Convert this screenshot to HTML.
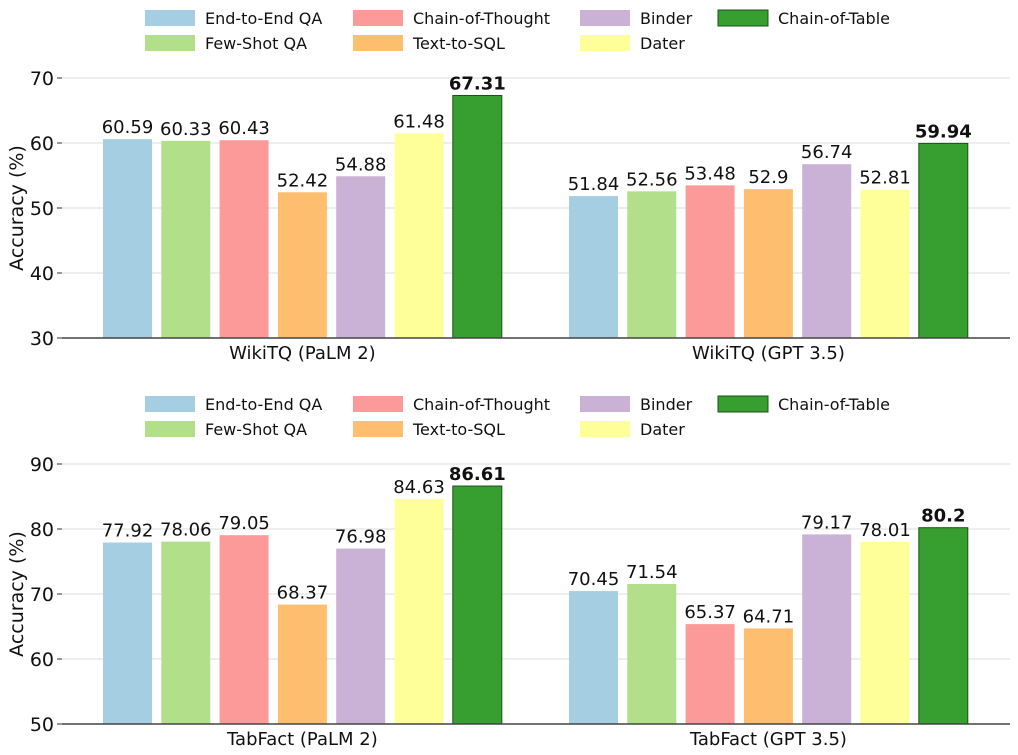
<!DOCTYPE html>
<html><head><meta charset="utf-8"><style>
body{margin:0;background:#fff;}
svg{display:block;font-family:"DejaVu Sans","Liberation Sans",sans-serif;}
</style></head><body>
<svg id="chart" width="1018" height="755" viewBox="0 0 1018 755"></svg>
<script>
const methods = ["End-to-End QA","Few-Shot QA","Chain-of-Thought","Text-to-SQL","Binder","Dater","Chain-of-Table"];
const colors = ["#a6cee3","#b2df8a","#fb9a99","#fdbf6f","#cab2d6","#ffff99","#379e30"];
const topCategories = ["WikiTQ (PaLM 2)","WikiTQ (GPT 3.5)"];
const topPalm = [60.59,60.33,60.43,52.42,54.88,61.48,67.31];
const topGpt = [51.84,52.56,53.48,52.9,56.74,52.81,59.94];
const topTicks = [30,40,50,60,70];
const botCategories = ["TabFact (PaLM 2)","TabFact (GPT 3.5)"];
const botPalm = [77.92,78.06,79.05,68.37,76.98,84.63,86.61];
const botGpt = [70.45,71.54,65.37,64.71,79.17,78.01,80.2];
const botTicks = [50,60,70,80,90];

const svg = document.getElementById('chart');
const NS = "http://www.w3.org/2000/svg";
function mk(tag, attrs, parent, text){
  const e = document.createElementNS(NS, tag);
  for (const k in attrs) e.setAttribute(k, attrs[k]);
  if (text !== undefined) e.textContent = text;
  (parent||svg).appendChild(e);
  return e;
}

function panel(name, yBase, yTop, ticks, cats, series, legendY){
  const g = mk('g', {});
  
  
  const ymin = ticks[0], ymax = ticks[ticks.length-1];
  const y = v => yBase - (v - ymin) / (ymax - ymin) * (yBase - yTop);
  ticks.forEach(t => {
    const gl = mk('line', {x1:62, x2:1010, y1:y(t), y2:y(t), stroke:'#dcdcdc', 'stroke-width':1}, g);
    
    
    mk('line', {x1:57, x2:62, y1:y(t), y2:y(t), stroke:'#333', 'stroke-width':1}, g);
    const tl = mk('text', {x:54, y:y(t)+7, 'text-anchor':'end', 'font-size':19, fill:'#111'}, g, String(t));
    
    
  });
  const yl = mk('text', {x:0, y:0, transform:`translate(23,${(yBase+yTop)/2}) rotate(-90)`, 'text-anchor':'middle', 'font-size':19, fill:'#111'}, g, 'Accuracy (%)');
  
  
  const groupStart = [103, 569];
  const step = 58.3, bw = 49;
  series.forEach((vals, gi) => {
    vals.forEach((v, i) => {
      const x = groupStart[gi] + i * step;
      const last = i === vals.length - 1;
      const r = mk('rect', {x:x, y:y(v), width:bw, height:yBase - y(v), fill:colors[i], stroke:last?'#1f4f1a':'none', 'stroke-width':last?1:0}, g);
      
      
      const lb = mk('text', {x:x+bw/2, y:y(v)-6, 'text-anchor':'middle', 'font-size':18, 'font-weight':last?'bold':'normal', fill:'#111'}, g, String(v));
      
      
    });
    const cx = groupStart[gi] + (6*step + bw)/2;
    const cl = mk('text', {x:cx, y:yBase+21, 'text-anchor':'middle', 'font-size':18, fill:'#111'}, g, cats[gi]);
    
    
  });
  mk('line', {x1:62, x2:1010, y1:yBase, y2:yBase, stroke:'#444', 'stroke-width':1.5}, g);
  const lg = mk('g', {}, g);
  
  
  const colX = [145, 353, 580, 718];
  methods.forEach((m, i) => {
    const col = Math.floor(i/2), row = i%2;
    const px = colX[col], py = legendY + row*25;
    const e = mk('g', {}, lg);
    
    
    mk('rect', {x:px, y:py-7, width:50, height:16, fill:colors[i], stroke:i===6?'#1f4f1a':'none'}, e);
    mk('text', {x:px+60, y:py+7, 'font-size':16, fill:'#111'}, e, m);
  });
}
panel('top-panel-wikitq', 338, 78, topTicks, topCategories, [topPalm, topGpt], 17);
panel('bottom-panel-tabfact', 724, 464, botTicks, botCategories, [botPalm, botGpt], 403);
</script>
</body></html>
